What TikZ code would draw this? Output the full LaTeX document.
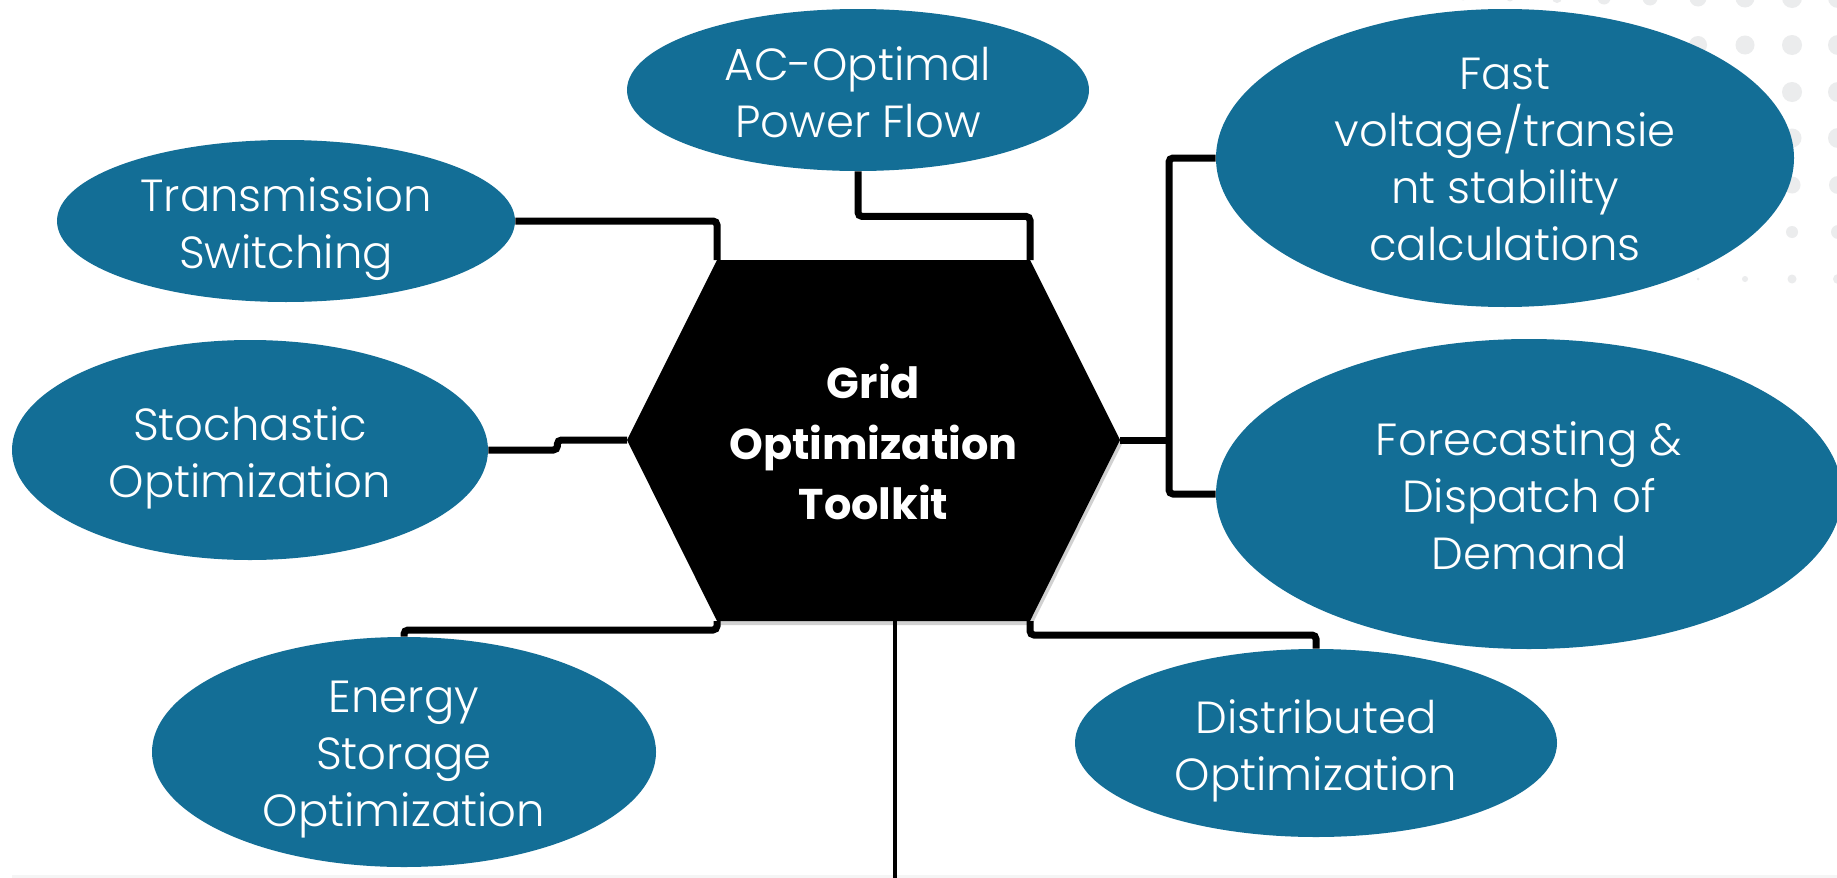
\documentclass[tikz,border=0pt]{standalone}
\usepackage{xcolor}
\usepackage{fontspec}
\usepackage{tikz}
\usetikzlibrary{shapes.geometric}
\setmainfont{Poppins}[UprightFont={* Light}, BoldFont={* Bold}]
\definecolor{gotblue}{RGB}{19,110,150}
\definecolor{dotgray}{RGB}{235,236,237}
\tikzset{blob/.style={ellipse, fill=gotblue, inner sep=0pt}}
\tikzset{blurb/.style={text=white, align=center, inner sep=0pt, text depth=0pt, font=\fontsize{22.5pt}{28.5pt}\selectfont}}
\tikzset{tag/.style={blurb, yshift=-0.8pt}}
\tikzset{link/.style={line width=3.5pt, rounded corners=2pt}}
\tikzset{stem/.style={line width=2pt}}

\begin{document}
\begin{tikzpicture}[x=0.5pt,y=-0.5pt]

        \fill[white] (0,0) rectangle (1837,878);
        \useasboundingbox (0,0) rectangle (1837,878);
        \fill[black!4] (12,875) rectangle (1837,878);

        % dot pattern, top right
        \foreach \dx/\dy/\dr in {1416/-2/1.5, 1463/-2/2.5, 1510/-2/3.5, 1557/-2/5, 1604/-2/6.5,
                1650/-2/7.5, 1698/-2/8.5, 1745/-2/9.5, 1792/-2/10, 1838/-2/10,
                1698/45/9, 1745/45/9.5, 1792/45/10, 1838/45/10,
                1745/92/9, 1792/92/10, 1838/92/10,
                1792/138/9.5, 1838/138/10,
                1792/185/8.5, 1838/185/9,
                1792/232/6, 1838/232/7,
                1652/279/1, 1698/279/1.5, 1745/279/3, 1792/279/4.5, 1838/279/5}
                \fill[dotgray] (\dx,\dy) circle[radius=\dr];

        \node[blob, minimum width=231pt, minimum height=81pt] (acopf) at (858,90) {};
        \node[blob, minimum width=229pt, minimum height=81pt] (txsw) at (286,221) {};
        \node[blob, minimum width=238pt, minimum height=110pt] (stoch) at (250,450) {};
        \node[blob, minimum width=252pt, minimum height=115pt] (energy) at (404,752) {};
        \node[blob, minimum width=289pt, minimum height=149pt] (fast) at (1505,158) {};
        \node[blob, minimum width=313pt, minimum height=155pt] (fore) at (1529,494) {};
        \node[blob, minimum width=241pt, minimum height=94pt] (dist) at (1316,743) {};

        \node[tag] (acopftxt) at (acopf) {AC-Optimal\\Power Flow};
        \node[tag] (txswtxt) at (txsw) {Transmission\\Switching};
        \node[tag] (stochtxt) at (stoch) {Stochastic\\Optimization};
        \node[tag] (energytxt) at (energy) {Energy\\Storage\\Optimization};
        \node[tag] (fasttxt) at (fast) {Fast\\voltage/transie\\nt stability\\calculations};
        \node[tag] (foretxt) at (fore) {Forecasting \&\\Dispatch of\\Demand};
        \node[tag] (disttxt) at (dist) {Distributed\\Optimization};

        % hexagon
        \coordinate (hexW) at (627,440);
        \coordinate (hexNW) at (717,260);
        \coordinate (hexNE) at (1030,260);
        \coordinate (hexE) at (1120,440);
        \coordinate (hexSE) at (1030,621);
        \coordinate (hexSW) at (717,621);
        \coordinate (hexS) at (895,621);
        \coordinate (hub) at (1169,440);
        \coordinate (tail) at (895,880);

        \fill[black!18] ([shift={(2,4)}]hexW) -- ([shift={(2,4)}]hexNW) -- ([shift={(2,4)}]hexNE)
                -- ([shift={(2,4)}]hexE) -- ([shift={(2,4)}]hexSE) -- ([shift={(2,4)}]hexSW) -- cycle;
        \fill (hexW) -- (hexNW) -- (hexNE) -- (hexE) -- (hexSE) -- (hexSW) -- cycle;
        \node[blurb, font=\bfseries\fontsize{21.5pt}{30.3pt}\selectfont] (core) at (873.5,442) {Grid\\Optimization\\Toolkit};

        \draw[link] (acopf.south) -- ++(0,45) -| (hexNE);
        \draw[link] (txsw.east) -| (hexNW);
        \draw[link] (stoch.east) -- ++(69,0) |- (hexW);
        \draw[link] (hexSW) -- ++(0,9) -| (energy.north);
        \draw[link] (hexSE) -- ++(0,14) -| (dist.north);
        \draw[link] (hexE) -- (hub);
        \draw[link] (fast.west) -| (hub) |- (fore.west);
        \draw[stem] (hexS) -- (tail);

\end{tikzpicture}
\end{document}
